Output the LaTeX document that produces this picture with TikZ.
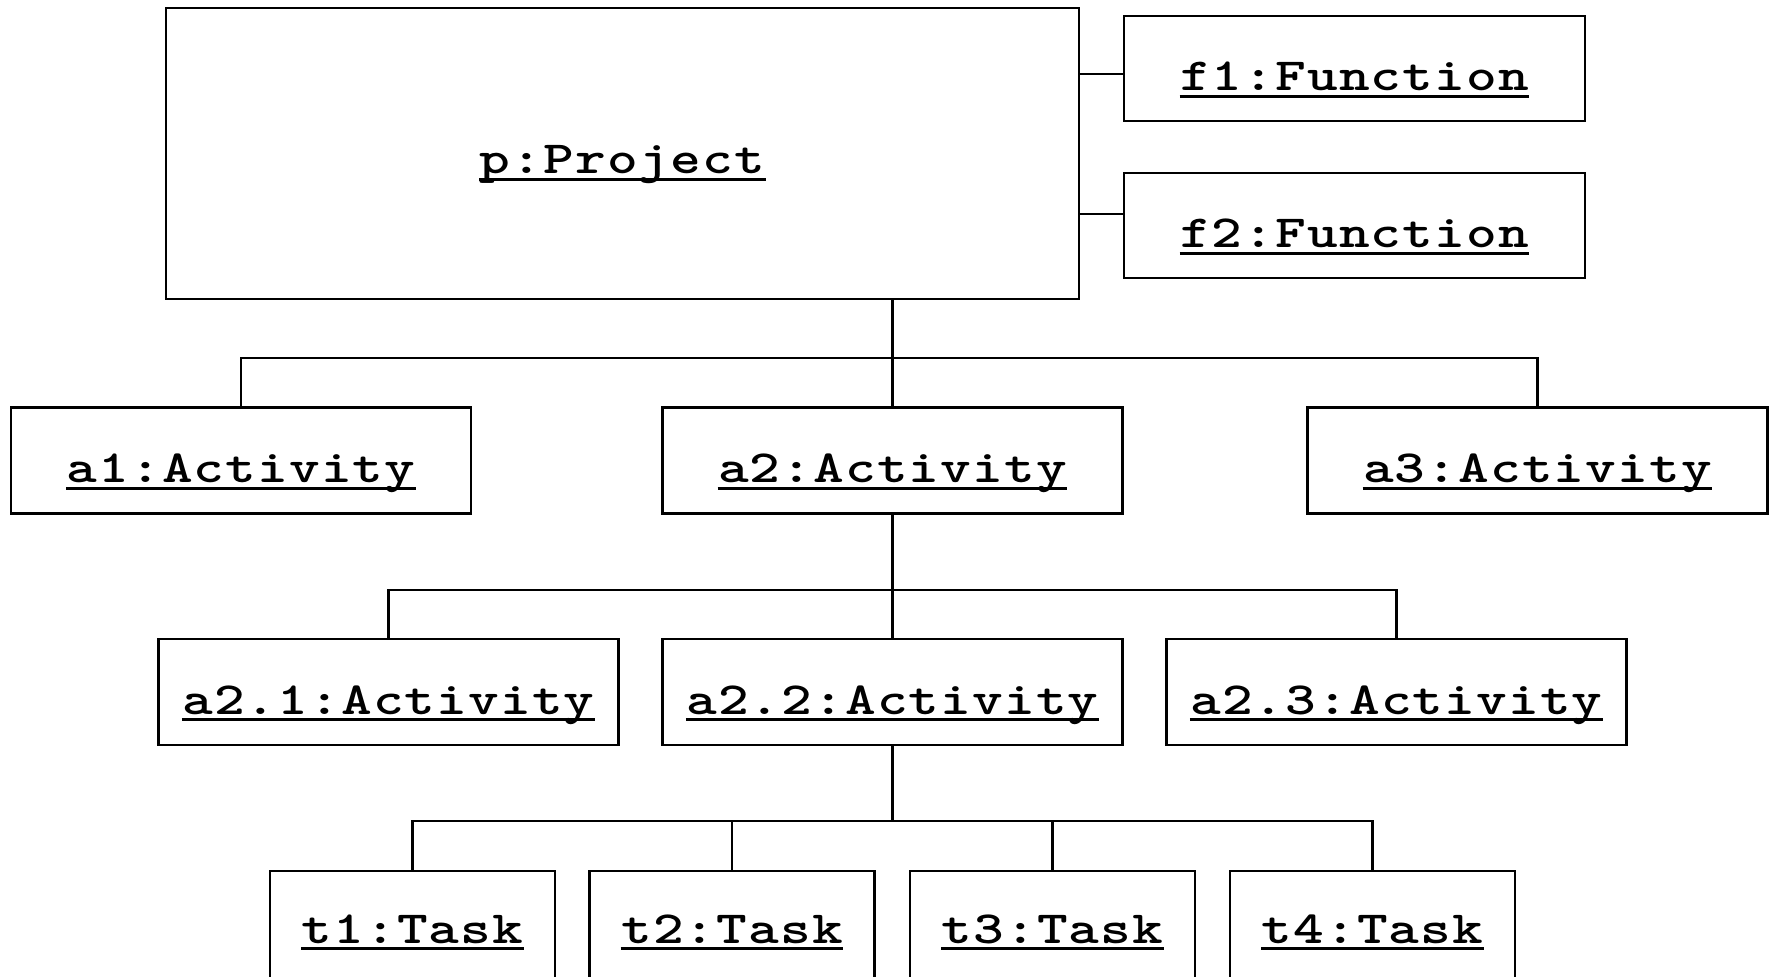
\documentclass[tikz,border=0pt]{standalone}
\usepackage{fontspec}
% slab-serif typewriter face, bold and widened
\newfontfamily\objfont{lmmonolt10-bold.otf}[FakeStretch=1.27]
\newlength\cellw
\setlength\cellw{15.9pt}
% set each character in a fixed-width cell
\def\cellsplit#1{\ifx#1\relax\else\makebox[\cellw]{#1}\expandafter\cellsplit\fi}
% underlined object name
\newcommand\objname[1]{\setbox0=\hbox{\cellsplit#1\relax}\rlap{\rule[-3.6pt]{\wd0}{1.4pt}}\box0}

\begin{document}
\begin{tikzpicture}[x=0.5pt,y=-0.5pt,
  obj/.style={draw, line width=1.4pt, rectangle, inner sep=0pt,
    font=\objfont\fontsize{23}{27}\selectfont, text height=22pt, text depth=0pt},
  actbox/.style={obj, minimum width=230pt, minimum height=53pt},
  funbox/.style={obj, minimum width=230.5pt, minimum height=52.5pt},
  taskbox/.style={obj, minimum width=142.5pt, minimum height=55pt, text height=17pt},
  conn/.style={line width=1.2pt}]
\useasboundingbox (0,0) rectangle (1771,976);
\clip (0,0) rectangle (1771,976);

% project and its functions
\node[obj, minimum width=456.5pt, minimum height=145.5pt, text height=20pt] (p) at (622.5,153.5) {\objname{p:Project}};
\node[funbox] (f1) at (1354.5,68.5) {\objname{f1:Function}};
\node[funbox] (f2) at (1354.5,225.5) {\objname{f2:Function}};

% activities
\node[actbox] (a1) at (241,460.5) {\objname{a1:Activity}};
\node[actbox] (a2) at (892.5,460.5) {\objname{a2:Activity}};
\node[actbox] (a3) at (1537.5,460.5) {\objname{a3:Activity}};

% sub-activities of a2
\node[actbox] (a21) at (388.5,692) {\objname{a2.1:Activity}};
\node[actbox] (a22) at (892.5,692) {\objname{a2.2:Activity}};
\node[actbox] (a23) at (1396.5,692) {\objname{a2.3:Activity}};

% tasks of a2.2
\node[taskbox] (t1) at (412.5,926) {\objname{t1:Task}};
\node[taskbox] (t2) at (732,926) {\objname{t2:Task}};
\node[taskbox] (t3) at (1052.5,926) {\objname{t3:Task}};
\node[taskbox] (t4) at (1372.5,926) {\objname{t4:Task}};

% bus levels and function link heights
\coordinate (bus1) at (892.5,358);
\coordinate (bus2) at (892.5,590);
\coordinate (bus3) at (892.5,821);
\coordinate (c1) at (1124,74);
\coordinate (c2) at (1124,214);

% project to functions
\draw[conn] (c1 -| p.east) -- (c1 -| f1.west);
\draw[conn] (c2 -| p.east) -- (c2 -| f2.west);

% project to activities
\draw[conn] (p.south -| a2.north) -- (a2.north);
\draw[conn] (a1.north) |- (a3.north |- bus1) -- (a3.north);

% a2 to sub-activities
\draw[conn] (a2.south) -- (a22.north);
\draw[conn] (a21.north) |- (a23.north |- bus2) -- (a23.north);

% a2.2 to tasks
\draw[conn] (a22.south) -- (a22.south |- bus3);
\draw[conn] (t1.north) |- (t4.north |- bus3) -- (t4.north);
\draw[conn] (t2.north) -- (t2.north |- bus3);
\draw[conn] (t3.north) -- (t3.north |- bus3);
\end{tikzpicture}
\end{document}
